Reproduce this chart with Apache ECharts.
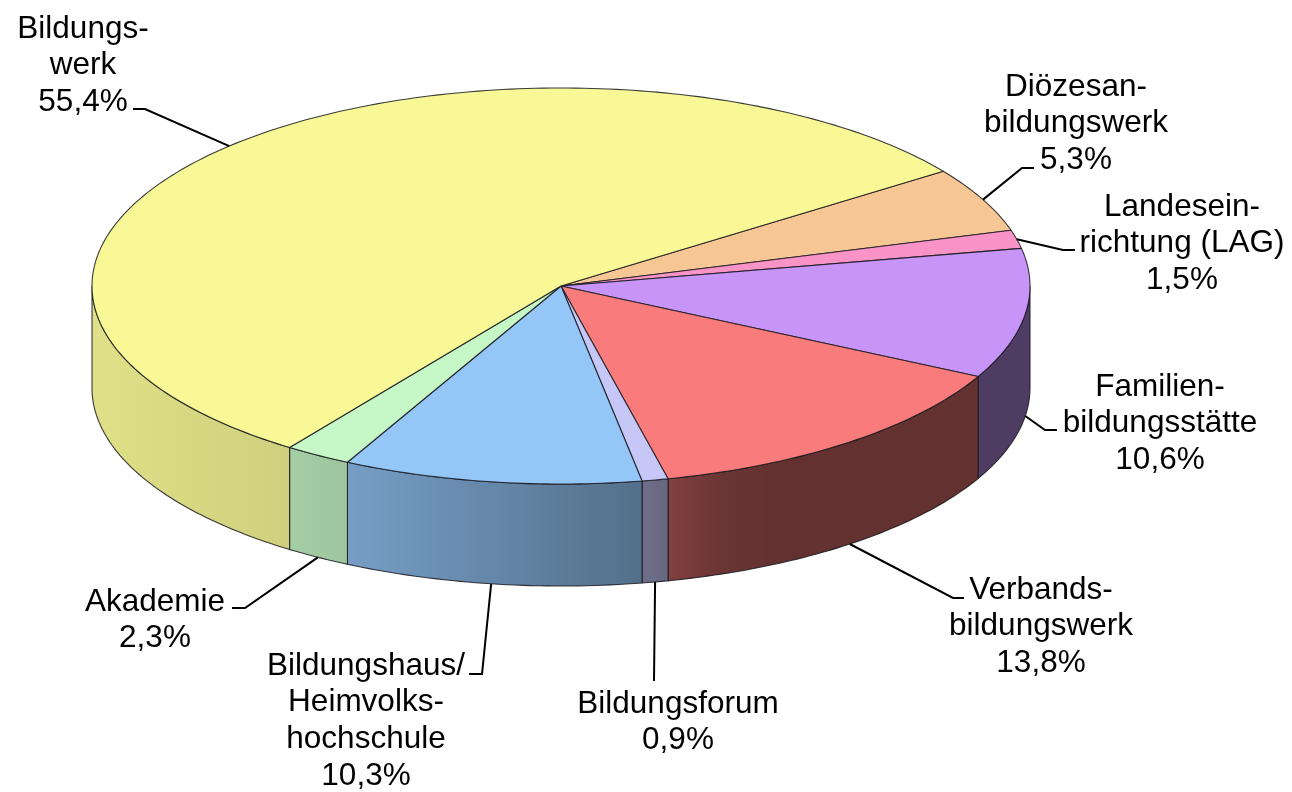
<!DOCTYPE html>
<html><head><meta charset="utf-8">
<style>html,body{margin:0;padding:0;background:#fff}#c{width:1292px;height:792px}</style>
<script src="https://cdn.jsdelivr.net/npm/echarts@6/dist/echarts.min.js"></script>
</head><body><div id="c"></div>
<script>
// data
const categories = ['Diözesan-\nbildungswerk','Landesein-\nrichtung (LAG)','Familien-\nbildungsstätte','Verbands-\nbildungswerk','Bildungsforum','Bildungshaus/\nHeimvolks-\nhochschule','Akademie','Bildungs-\nwerk'];
const shares = [5.3,1.5,10.6,13.8,0.9,10.3,2.3,55.4];
// styles
const topColors = ['#F7C695','#FA94C6','#C695F7','#FA7B7B','#C6C6F7','#94C6F7','#C6F7C6','#F8F896'];
// layout (pixels): label centre x, first-line centre y; leader elbow and end
const labelLayout = [
 {x:1076,y:87, elbow:[1022,168],end:[1034,168]},
 {x:1182,y:207,elbow:[1063,250],end:[1075,250]},
 {x:1160,y:387,elbow:[1045,430],end:[1057,430]},
 {x:1041,y:590,elbow:[953,598], end:[964,598]},
 {x:678, y:704,elbow:[654,681], end:[654,681]},
 {x:366, y:666,elbow:[482,674], end:[469,674]},
 {x:155, y:602,elbow:[245,608], end:[232,608]},
 {x:83,  y:29, elbow:[145,109], end:[133,109]}
];
const startDeg = 54.6, depth = 102, lineH = 36.8;
const gridBox = {left:92, top:88, width:938, height:396};
// side shading across the page: [x px, brightness]
const shadeStops = [[92,.905],[289,.835],[348,.80],[642,.56],[667,.52],[720,.43],[770,.40],[1030,.40]];

const total = shares.reduce((a,b)=>a+b,0);
const cum = []; let acc = 0;
shares.forEach(v=>{cum.push(acc); acc+=v;});
const rad = d=>d*Math.PI/180;
const range = i=>{const a=startDeg+cum[i]/total*360; return [a,a+shares[i]/total*360];};
const onRim = (api,deg)=>api.coord([Math.sin(rad(deg)),Math.cos(rad(deg))]);
const arc = (api,a,b)=>{const n=Math.max(2,Math.ceil(Math.abs(b-a)));const p=[];for(let k=0;k<=n;k++)p.push(onRim(api,a+(b-a)*k/n));return p;};
const rgb = h=>[1,3,5].map(i=>parseInt(h.substr(i,2),16));
const scaled = (c,f)=>`rgb(${c.map(x=>Math.round(x*f)).join(',')})`;
const strokeCol = 'rgba(25,25,30,0.85)';

function renderSide(params,api){
  const i=params.dataIndex; let [a,b]=range(i); const kids=[];
  // front half of the rim is 90..270 degrees, also modulo 360
  [[90,270],[450,630]].forEach(([lo,hi])=>{
    const s=Math.max(a,lo), e=Math.min(b,hi);
    if(e<=s) return;
    const rim=arc(api,s,e);
    const low=rim.slice().reverse().map(p=>[p[0],p[1]+depth]);
    const x0=Math.min(rim[0][0],rim[rim.length-1][0]), x1=Math.max(rim[0][0],rim[rim.length-1][0]);
    const c=rgb(topColors[i]);
    const shadeAt=x=>{for(let k=1;k<shadeStops.length;k++){const A=shadeStops[k-1],B=shadeStops[k];if(x<=B[0])return A[1]+(B[1]-A[1])*(x-A[0])/(B[0]-A[0]);}return shadeStops[shadeStops.length-1][1];};
    const colorStops=[];
    colorStops.push({offset:0,color:scaled(c,shadeAt(x0))});
    shadeStops.forEach(st=>{if(st[0]>x0&&st[0]<x1)colorStops.push({offset:(st[0]-x0)/(x1-x0),color:scaled(c,st[1])});});
    colorStops.push({offset:1,color:scaled(c,shadeAt(x1))});
    kids.push({type:'polygon',shape:{points:rim.concat(low)},
      style:{fill:new echarts.graphic.LinearGradient(x0,0,x1,0,colorStops,true),stroke:strokeCol,lineWidth:1.1}});
  });
  return {type:'group',children:kids};
}
function renderTop(params,api){
  const i=params.dataIndex; const [a,b]=range(i);
  const pts=[api.coord([0,0])].concat(arc(api,a,b));
  return {type:'polygon',shape:{points:pts},style:{fill:topColors[i],stroke:strokeCol,lineWidth:1.1,lineJoin:'round'}};
}
function renderLabel(params,api){
  const i=params.dataIndex; const [a,b]=range(i); const m=(a+b)/2;
  const p=onRim(api,m); const md=((m%360)+360)%360;
  const start=(md>90&&md<270)?[p[0],p[1]+depth]:p;
  const L=labelLayout[i];
  const pct=api.value(0).toFixed(1).replace('.',',')+'%';
  const lines=categories[i].split('\n').concat(pct);
  const kids=[{type:'polyline',shape:{points:[start,L.elbow,L.end]},style:{fill:'none',stroke:'#000',lineWidth:2}}];
  lines.forEach((t,k)=>kids.push({type:'text',style:{text:t,x:L.x,y:L.y+k*lineH,align:'center',verticalAlign:'middle',
    fontFamily:'"Liberation Sans",Arial,sans-serif',fontSize:31.5,fill:'#000'}}));
  return {type:'group',children:kids};
}
const seriesData = shares.map(v=>[v]);
const chart=echarts.init(document.getElementById('c'),null,{renderer:'canvas'});
const hiddenAxis={type:'value',min:-1,max:1,show:false};
chart.setOption({
  animation:false,backgroundColor:'#fff',
  grid:Object.assign({},gridBox,{containLabel:false}),
  xAxis:hiddenAxis,yAxis:hiddenAxis,
  series:[
    {type:'custom',name:'side',data:seriesData,renderItem:renderSide,z:1,clip:false,silent:true},
    {type:'custom',name:'top',data:seriesData,renderItem:renderTop,z:2,clip:false,silent:true},
    {type:'custom',name:'labels',data:seriesData,renderItem:renderLabel,z:3,clip:false,silent:true}
  ]
});
</script></body></html>
